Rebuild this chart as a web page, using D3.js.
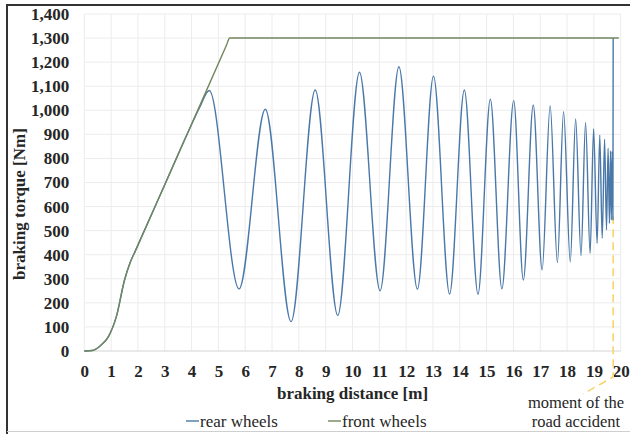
<!DOCTYPE html>
<html>
<head>
<meta charset="utf-8">
<script src="https://cdn.jsdelivr.net/npm/d3@7"></script>
<style>
    body { margin: 0; background: #fff; }
    text { font-family: "Liberation Serif", "Times New Roman", serif; fill: #262626; }
</style>
</head>
<body>
<div id="graph-container"></div>
<script>
const WIDTH = 630,
    HEIGHT = 434;

// braking distance [m] / braking torque [Nm]
const rearDist = [0, 0.3, 0.6, 0.9, 1.2, 1.5, 1.7, 1.9, 3.0, 3.9, 4.3, 4.66,
    5.77, 6.75, 7.71, 8.61, 9.45, 10.26, 11.03, 11.73, 12.42, 13.02, 13.62,
    14.17, 14.68, 15.14, 15.57, 16.01, 16.37, 16.74, 17.07, 17.37, 17.64,
    17.87, 18.12, 18.32, 18.52, 18.69, 18.86, 18.99, 19.12, 19.22, 19.31,
    19.40, 19.47, 19.53, 19.58, 19.62, 19.65, 19.68, 19.71, 19.72];
const rearTorque = [0, 2, 22, 60, 145, 295, 365, 415, 691, 917, 1012, 1082,
    258, 1004, 122, 1084, 148, 1158, 250, 1181, 257, 1142, 237,
    1084, 236, 1046, 258, 1040, 295, 1022, 337, 1018, 367,
    994, 370, 964, 396, 948, 406, 924, 447, 897, 468,
    880, 503, 842, 530, 832, 544, 828, 545, 1300];

const frontDist = [0, 0.3, 0.6, 0.9, 1.2, 1.5, 1.7, 1.9, 3.0, 3.9, 5.3, 5.42, 5.6, 19.93];
const frontTorque = [0, 2, 22, 60, 145, 295, 365, 415, 691, 917, 1270, 1300, 1300, 1300];

const accidentDist = 19.72,
    accidentTorque = 560;

const xTicks = d3.range(0, 21, 1);
const yTicks = d3.range(0, 1401, 100);

const series = [
    { key: "rear wheels", dist: rearDist, torque: rearTorque, color: "#4a78a8" },
    { key: "front wheels", dist: frontDist, torque: frontTorque, color: "#72875c" }
];

const margin = { top: 14, bottom: 83, left: 84.3, right: 9.3 };

const svg = d3.select("#graph-container")
    .append("svg")
    .attr("width", WIDTH)
    .attr("height", HEIGHT);

const escalaX = d3.scaleLinear()
    .domain([0, 20])
    .range([margin.left, WIDTH - margin.right]);

const escalaY = d3.scaleLinear()
    .domain([0, 1400])
    .range([HEIGHT - margin.bottom, margin.top]);

// frame of the figure
svg.append("line")
    .attr("x1", 7).attr("x2", 7).attr("y1", 4).attr("y2", HEIGHT)
    .attr("stroke", "#333").attr("stroke-width", 2);
svg.append("line")
    .attr("x1", 6).attr("x2", WIDTH).attr("y1", 5).attr("y2", 5)
    .attr("stroke", "#333").attr("stroke-width", 2);
svg.append("line")
    .attr("x1", 7).attr("x2", WIDTH).attr("y1", 431.5).attr("y2", 431.5)
    .attr("stroke", "#cfcfcf").attr("stroke-width", 1);

// grid
svg.append("g")
    .selectAll("line")
    .data(xTicks)
    .join("line")
    .attr("x1", (d) => escalaX(d)).attr("x2", (d) => escalaX(d))
    .attr("y1", escalaY(1400)).attr("y2", escalaY(0))
    .attr("stroke", "#ececec");

svg.append("g")
    .selectAll("line")
    .data(yTicks)
    .join("line")
    .attr("x1", escalaX(0)).attr("x2", escalaX(20))
    .attr("y1", (d) => escalaY(d)).attr("y2", (d) => escalaY(d))
    .attr("stroke", (d) => d === 0 ? "#d4d4d4" : "#ececec");

// axes
const yAxis = svg.append("g")
    .attr("transform", `translate(${margin.left}, 0)`)
    .call(d3.axisLeft(escalaY).tickValues(yTicks).tickFormat(d3.format(",")).tickSize(0).tickPadding(15));

const xAxis = svg.append("g")
    .attr("transform", `translate(0, ${escalaY(0)})`)
    .call(d3.axisBottom(escalaX).tickValues(xTicks).tickSize(0).tickPadding(14));

svg.selectAll(".domain").remove();
svg.selectAll(".tick text")
    .style("font-family", "'Liberation Serif', serif")
    .style("font-weight", "bold")
    .style("font-size", "17px")
    .attr("fill", "#262626");

svg.append("text")
    .attr("x", 352.5)
    .attr("y", 399)
    .attr("text-anchor", "middle")
    .style("font-weight", "bold")
    .style("font-size", "17px")
    .text("braking distance [m]");

svg.append("text")
    .attr("transform", "translate(25, 204) rotate(-90)")
    .attr("text-anchor", "middle")
    .style("font-weight", "bold")
    .style("font-size", "17px")
    .text("braking torque [Nm]");

// accident marker
const xAcc = escalaX(accidentDist);
svg.append("path")
    .attr("d", `M${xAcc},${escalaY(accidentTorque)} L${xAcc},377 L583,394`)
    .attr("fill", "none")
    .attr("stroke", "#f8d56e")
    .attr("stroke-width", 1.6)
    .attr("stroke-dasharray", "8,5");

// lines
const linea = d3.line()
    .curve(d3.curveMonotoneX)
    .x((d) => escalaX(d[0]))
    .y((d) => escalaY(d[1]));

svg.append("g")
    .selectAll("path")
    .data(series)
    .join("path")
    .attr("d", (s) => linea(s.dist.map((x, i) => [x, s.torque[i]])))
    .attr("fill", "none")
    .attr("stroke", (s) => s.color)
    .attr("stroke-width", 1.4);

// annotation
svg.append("text")
    .attr("x", 576).attr("y", 408)
    .attr("text-anchor", "middle")
    .style("font-size", "16.5px")
    .text("moment of the");
svg.append("text")
    .attr("x", 576).attr("y", 427)
    .attr("text-anchor", "middle")
    .style("font-size", "16.5px")
    .text("road accident");

// legend
const legendX = [186, 328];
const legend = svg.append("g")
    .selectAll("g")
    .data(series)
    .join("g")
    .attr("transform", (s, i) => `translate(${legendX[i]}, 421)`);

legend.append("line")
    .attr("x1", 0).attr("x2", 13)
    .attr("stroke", (s) => s.color)
    .attr("stroke-width", 1.4);

legend.append("text")
    .attr("x", 14)
    .attr("y", 5.5)
    .style("font-size", "17px")
    .text((s) => s.key);
</script>
</body>
</html>
